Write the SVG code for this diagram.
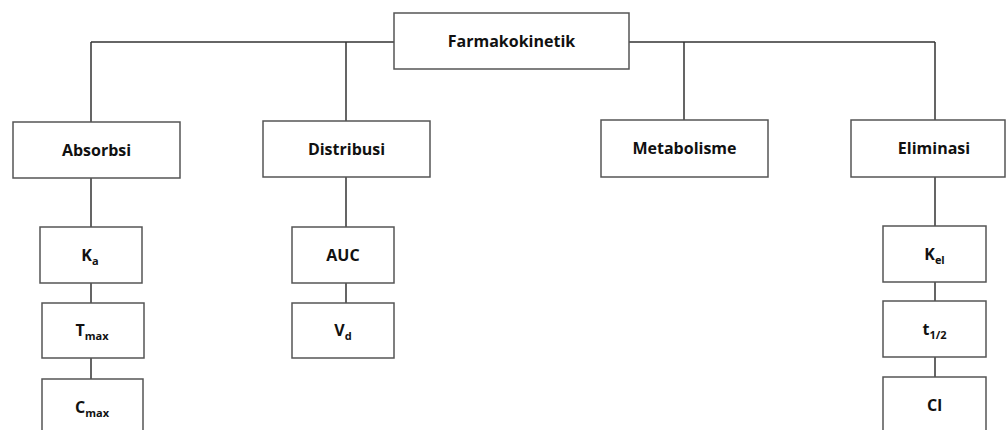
<svg xmlns="http://www.w3.org/2000/svg" width="1008" height="430" viewBox="0 0 1008 430">
<style>
.box{fill:#fff;stroke:#555;stroke-width:1.5}
.lbl{font-family:"Open Sans","Liberation Sans",sans-serif;font-weight:bold;font-size:16px;fill:#111;text-anchor:middle;dominant-baseline:central}
.sub{font-size:11px}
.con{stroke:#333;stroke-width:1.5;fill:none}
</style>
<rect width="1008" height="430" fill="#fff"/>
<g id="connectors">
<path class="con" d="M91 42H935"/>
<path class="con" d="M91 42V122M346 42V121M684 42V120M935 42V120"/>
<path class="con" d="M91 178V227M91 283V303M91 358V379"/>
<path class="con" d="M346 177V227M346 283V303"/>
<path class="con" d="M935 177V226M935 282V301M935 357V377"/>
</g>
<g id="farmakokinetik"><rect class="box" x="394" y="13" width="235" height="56"/><text class="lbl" x="511.5" y="41">Farmakokinetik</text></g>
<g id="absorbsi"><rect class="box" x="13" y="122" width="167" height="56"/><text class="lbl" x="96.5" y="150">Absorbsi</text></g>
<g id="distribusi"><rect class="box" x="263" y="121" width="167" height="56"/><text class="lbl" x="346.5" y="149">Distribusi</text></g>
<g id="metabolisme"><rect class="box" x="601" y="120" width="167" height="57"/><text class="lbl" x="684.5" y="148">Metabolisme</text></g>
<g id="eliminasi"><rect class="box" x="851" y="120" width="154" height="57"/><text class="lbl" x="934" y="148">Eliminasi</text></g>
<g id="ka"><rect class="box" x="40" y="227" width="102" height="56"/><text class="lbl" x="90" y="255">K<tspan class="sub" dy="5">a</tspan></text></g>
<g id="tmax"><rect class="box" x="42" y="303" width="102" height="55"/><text class="lbl" x="92" y="330">T<tspan class="sub" dy="5">max</tspan></text></g>
<g id="cmax"><rect class="box" x="42" y="379" width="101" height="60"/><text class="lbl" x="92" y="407">C<tspan class="sub" dy="5">max</tspan></text></g>
<g id="auc"><rect class="box" x="292" y="227" width="102" height="56"/><text class="lbl" x="343" y="255">AUC</text></g>
<g id="vd"><rect class="box" x="292" y="303" width="102" height="55"/><text class="lbl" x="343" y="330">V<tspan class="sub" dy="5">d</tspan></text></g>
<g id="kel"><rect class="box" x="883" y="226" width="103" height="56"/><text class="lbl" x="934.5" y="254">K<tspan class="sub" dy="5">el</tspan></text></g>
<g id="thalf"><rect class="box" x="883" y="301" width="103" height="56"/><text class="lbl" x="934.5" y="329">t<tspan class="sub" dy="5">1/2</tspan></text></g>
<g id="cl"><rect class="box" x="883" y="377" width="103" height="60"/><text class="lbl" x="934.5" y="405">Cl</text></g>
</svg>
